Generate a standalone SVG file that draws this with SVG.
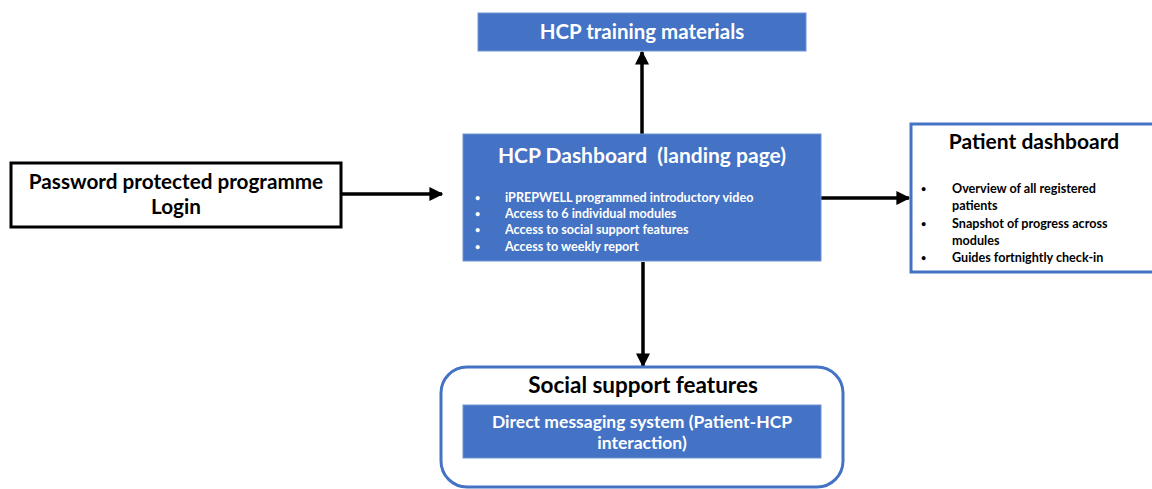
<svg xmlns="http://www.w3.org/2000/svg" width="1152" height="489" viewBox="0 0 1152 489">
  <style>
    .blue { fill: #4472c4; stroke: #6f93d3; stroke-width: 1; }
    .outline { fill: #ffffff; stroke: #4472c4; stroke-width: 3; }
    .plain { fill: #ffffff; stroke: #000000; stroke-width: 3; }
    text { font-family: Lato, "Open Sans", "Liberation Sans", sans-serif; font-weight: bold; white-space: pre; }
    .wt { fill: #ffffff; }
    .bk { fill: #000000; }
    .mid { text-anchor: middle; }
    .dot { font-size: 9px; }
    .conn { stroke: #000000; stroke-width: 3.5; fill: none; marker-end: url(#arrow); }
  </style>
  <defs>
    <marker id="arrow" viewBox="0 0 10 10" refX="9" refY="5" markerWidth="4" markerHeight="4" orient="auto" markerUnits="strokeWidth">
      <path d="M0,0 L10,5 L0,10 z" fill="#000000"/>
    </marker>
  </defs>
  <rect width="1152" height="489" fill="#ffffff"/>

  <g id="connectors">
    <line class="conn" x1="642" y1="134" x2="642" y2="52"/>
    <line class="conn" x1="341" y1="194" x2="442" y2="194"/>
    <line class="conn" x1="821" y1="198" x2="909" y2="198"/>
    <line class="conn" x1="643" y1="262" x2="643" y2="366"/>
  </g>

  <g id="training">
    <rect class="blue" x="478" y="13" width="328" height="38"/>
    <text class="wt mid" x="642" y="39" font-size="20.5">HCP training materials</text>
  </g>

  <g id="login">
    <rect class="plain" x="11" y="163" width="330" height="64"/>
    <text class="bk mid" x="176" y="189" font-size="20.7">Password protected programme</text>
    <text class="bk mid" x="176" y="214" font-size="20.7">Login</text>
  </g>

  <g id="dashboard">
    <rect class="blue" x="463" y="134" width="358" height="127"/>
    <text class="wt mid" x="642" y="163" font-size="21" xml:space="preserve">HCP Dashboard  (landing page)</text>
    <g class="wt" font-size="12.6">
      <text class="dot" x="475" y="201">•</text>
      <text x="505" y="202">iPREPWELL programmed introductory video</text>
      <text class="dot" x="475" y="217">•</text>
      <text x="505" y="218">Access to 6 individual modules</text>
      <text class="dot" x="475" y="233">•</text>
      <text x="505" y="234">Access to social support features</text>
      <text class="dot" x="475" y="250">•</text>
      <text x="505" y="251">Access to weekly report</text>
    </g>
  </g>

  <g id="patient">
    <rect class="outline" x="911" y="124" width="250" height="148"/>
    <text class="bk mid" x="1034" y="149" font-size="21">Patient dashboard</text>
    <g class="bk" font-size="12.6">
      <text class="dot" x="921" y="192">•</text>
      <text x="952" y="193">Overview of all registered</text>
      <text x="952" y="210">patients</text>
      <text class="dot" x="921" y="227">•</text>
      <text x="952" y="228">Snapshot of progress across</text>
      <text x="952" y="245">modules</text>
      <text class="dot" x="921" y="261">•</text>
      <text x="952" y="262">Guides fortnightly check-in</text>
    </g>
  </g>

  <g id="social">
    <rect class="outline" x="441" y="367" width="402" height="120" rx="26" ry="26"/>
    <text class="bk mid" x="643" y="393" font-size="22.5">Social support features</text>
    <rect class="blue" x="463" y="405" width="358" height="53"/>
    <text class="wt mid" x="642" y="428" font-size="17.5">Direct messaging system (Patient-HCP</text>
    <text class="wt mid" x="642" y="449" font-size="17.5">interaction)</text>
  </g>
</svg>
